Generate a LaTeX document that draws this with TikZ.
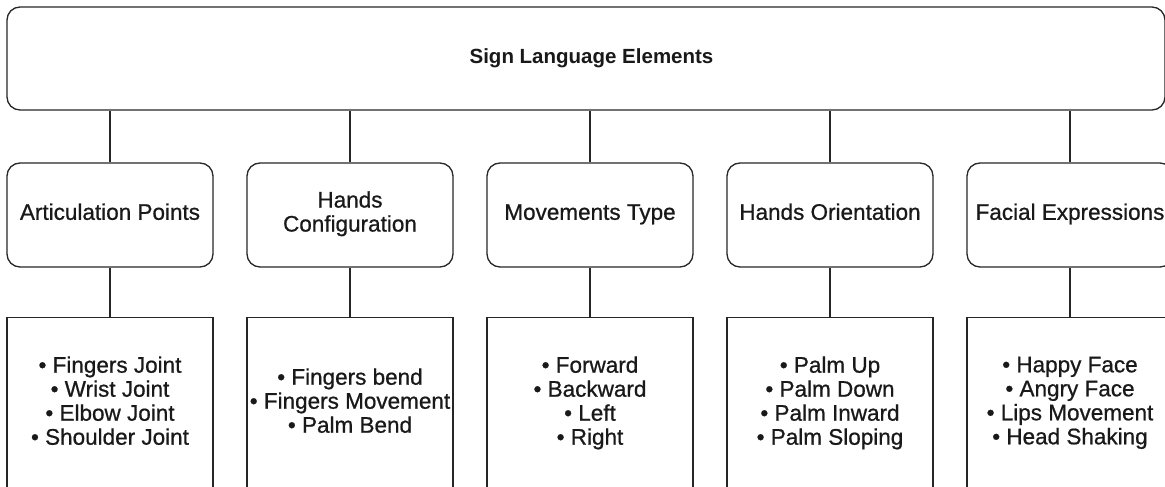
\documentclass[tikz,border=0pt]{standalone}
\usepackage{fontspec}
\setmainfont{Liberation Sans}
\newfontfamily\diafont{Liberation Sans}[FakeBold=0.8]
\begin{document}
\begin{tikzpicture}[x=1pt,y=-1pt,line width=1.3pt,
  txt/.style={text=black!90,font=\diafont\fontsize{22.5}{24}\selectfont,
    execute at begin node=\strut,execute at end node=\strut},
  topbox/.style={draw=black!85,rounded corners=13pt,minimum width=1158pt,minimum height=103pt,inner sep=0pt},
  midbox/.style={draw=black!85,rounded corners=13pt,minimum width=206pt,minimum height=104pt,inner sep=0pt,align=center,txt},
  leafbox/.style={draw=black!85,minimum width=206pt,minimum height=173pt,inner sep=0pt,align=center,anchor=north,txt},
  link/.style={draw=black!85}]
\useasboundingbox (0,0) rectangle (1165,487);
\clip (0,0) rectangle (1165,487);
\node[topbox,label={[text=black!90,font=\bfseries\fontsize{20.5}{24}\selectfont,xshift=5.5pt]center:Sign Language Elements}] (top) at (586,58.5) {};

\node[midbox] (m1) at (110,215) {Articulation Points};
\node[midbox] (m2) at (350,215) {Hands\\Configuration};
\node[midbox] (m3) at (590,215) {Movements Type};
\node[midbox] (m4) at (830,215) {Hands Orientation};
\node[midbox] (m5) at (1070,215) {Facial Expressions};

\node[leafbox] (l1) at (110,317) {• Fingers Joint\\• Wrist Joint\\• Elbow Joint\\• Shoulder Joint};
\node[leafbox] (l2) at (350,317) {• Fingers bend\\• Fingers Movement\\• Palm Bend};
\node[leafbox] (l3) at (590,317) {• Forward\\• Backward\\• Left\\• Right};
\node[leafbox] (l4) at (830,317) {• Palm Up\\• Palm Down\\• Palm Inward\\• Palm Sloping};
\node[leafbox] (l5) at (1070,317) {• Happy Face\\• Angry Face\\• Lips Movement\\• Head Shaking};

\foreach \i in {1,...,5}{
  \draw[link] (m\i.north |- top.south) -- (m\i.north);
  \draw[link] (m\i.south) -- (l\i.north);
}
\end{tikzpicture}
\end{document}
